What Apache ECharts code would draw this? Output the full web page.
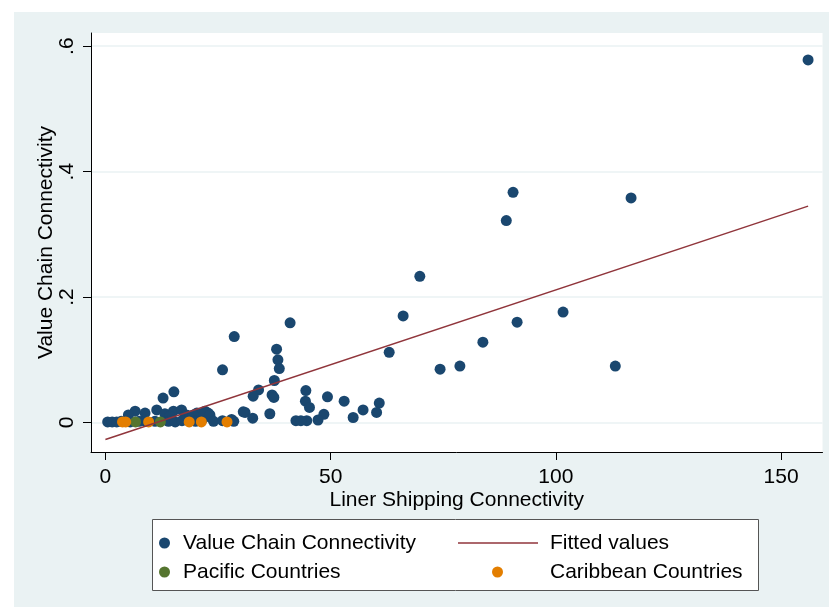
<!DOCTYPE html>
<html>
<head>
<meta charset="utf-8">
<script src="https://cdn.jsdelivr.net/npm/echarts@6/dist/echarts.min.js"></script>
<style>html,body{margin:0;padding:0;background:#fff;}#c{width:829px;height:607px;}</style>
</head>
<body>
<div id="c"></div>
<script>
// ---- data ----
var xTicks = [0, 50, 100, 150];
var yTicks = [0, 0.2, 0.4, 0.6];

var valueChain = [
  [156.0,0.578],[116.7,0.358],[90.5,0.367],[89.0,0.322],[69.8,0.233],[66.1,0.170],
  [41.0,0.159],[91.4,0.160],[101.6,0.176],[83.8,0.128],[63.0,0.112],[74.3,0.085],
  [78.7,0.090],[113.2,0.090],
  [28.6,0.137],[38.0,0.117],[38.3,0.100],[38.6,0.086],[26.0,0.084],[37.5,0.067],
  [34.0,0.052],[32.8,0.042],[37.0,0.044],[37.4,0.040],
  [44.5,0.051],[44.4,0.034],[45.3,0.024],[49.3,0.041],[53.0,0.034],[60.8,0.031],
  [60.2,0.016],[57.2,0.020],[55.0,0.008],[48.5,0.013],[47.2,0.004],[44.7,0.003],
  [42.3,0.003],[43.4,0.003],[36.5,0.014],[31.0,0.016],[32.7,0.007],[28.0,0.005],
  [23.2,0.009],[21.6,0.006],[22.8,0.015],
  [12.8,0.039],[15.2,0.049],[11.4,0.020],[13.2,0.014],[15.1,0.018],[16.9,0.020],
  [18.0,0.012],[20.3,0.015],[22.1,0.018],[6.6,0.018],[5.1,0.012],[8.8,0.015],
  [14.3,0.010],[17.7,0.010],[19.5,0.012],[23.2,0.012],[30.6,0.017],
  [0.5,0.001],[1.5,0.001],[2.5,0.001],[3.5,0.002],[5.5,0.001],[7.5,0.002],
  [9.0,0.002],[11.0,0.002],[14.0,0.002],[15.5,0.001],[17.0,0.003],[20.0,0.002],
  [24.0,0.002],[26.0,0.003],[28.5,0.002]
];
var pacific = [[6.7,0.001],[12.2,0.001]];
var caribbean = [[3.8,0.001],[4.5,0.001],[9.6,0.001],[18.6,0.001],[21.3,0.001],[27.0,0.001]];
var fitted = [[0,-0.027],[156,0.345]];

var NAVY = '#1a476f', MAROON = '#90353b', GREEN = '#55752f', ORANGE = '#e37e00';
var BG = '#eaf2f3';
var FONT = 'Liberation Sans';
var FS = 21;

var chart = echarts.init(document.getElementById('c'), null, {renderer: 'canvas'});
function leg(name, left, top, pad, extra) {
  var o = {
    data: [name], left: left, top: top, padding: 0, itemGap: 0,
    itemWidth: 11, itemHeight: 11, icon: 'circle', selectedMode: false,
    textStyle: {fontFamily: FONT, fontSize: FS, color: '#000', padding: [0,0,0,pad]}
  };
  for (var k in extra) o[k] = extra[k];
  return o;
}
chart.setOption({
  animation: false,
  backgroundColor: '#fff',
  graphic: [
    {type: 'rect', z: -10, shape: {x: 14, y: 12, width: 815, height: 595}, style: {fill: BG}},
    {type: 'rect', z: -1, shape: {x: 152.5, y: 519.5, width: 606, height: 71}, style: {fill: '#fff', stroke: '#555', lineWidth: 1}}
  ],
  grid: {left: 91, right: 6.5, top: 33, bottom: 155, show: true, backgroundColor: '#fff', borderWidth: 0},
  legend: [
    leg('Value Chain Connectivity', 159, 532.5, 8),
    leg('Fitted values', 458, 532.5, 7, {itemWidth: 80, itemHeight: 1.6, icon: 'rect', itemStyle: {color: MAROON}}),
    leg('Pacific Countries', 159, 561.5, 8),
    leg('Caribbean Countries', 492, 561.5, 42)
  ],
  xAxis: {
    type: 'value', min: -3.2, max: 159.2, interval: 50,
    name: 'Liner Shipping Connectivity', nameLocation: 'middle', nameGap: 38, nameMoveOverlap: false,
    nameTextStyle: {fontFamily: FONT, fontSize: FS, color: '#000'},
    axisLine: {show: true, onZero: false, lineStyle: {color: '#000', width: 1}},
    axisTick: {show: true, length: 8, lineStyle: {color: '#000'}, customValues: xTicks},
    axisLabel: {fontFamily: FONT, fontSize: FS, color: '#000', margin: 15, customValues: xTicks, formatter: function(v){return String(v);}},
    splitLine: {show: false}
  },
  yAxis: {
    type: 'value', min: -0.047, max: 0.621,
    name: 'Value Chain Connectivity', nameLocation: 'middle', nameGap: 34, nameMoveOverlap: false,
    nameTextStyle: {fontFamily: FONT, fontSize: FS, color: '#000'},
    axisLine: {show: true, onZero: false, lineStyle: {color: '#000', width: 1}},
    axisTick: {show: true, length: 8, lineStyle: {color: '#000'}, customValues: yTicks},
    axisLabel: {fontFamily: FONT, fontSize: FS, color: '#000', margin: 13, rotate: 90, customValues: yTicks,
      formatter: function(v){ return v === 0 ? '0' : String(+v.toFixed(1)).replace(/^0/, ''); }},
    splitLine: {show: true, lineStyle: {color: BG, width: 1.5}, customValues: yTicks}
  },
  series: [
    {name: 'Value Chain Connectivity', type: 'scatter', data: valueChain, symbolSize: 11,
     itemStyle: {color: NAVY, opacity: 1}, z: 2},
    {name: 'Fitted values', type: 'line', data: fitted, showSymbol: false, symbol: 'none',
     lineStyle: {color: MAROON, width: 1.5}, itemStyle: {color: MAROON}, z: 5},
    {name: 'Pacific Countries', type: 'scatter', data: pacific, symbolSize: 11,
     itemStyle: {color: GREEN, opacity: 1}, z: 3},
    {name: 'Caribbean Countries', type: 'scatter', data: caribbean, symbolSize: 11,
     itemStyle: {color: ORANGE, opacity: 1}, z: 4}
  ]
});
</script>
</body>
</html>
